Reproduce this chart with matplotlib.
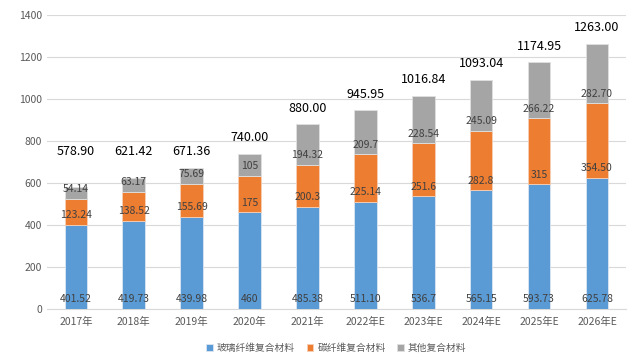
import matplotlib
matplotlib.use("Agg")
import numpy as np
import matplotlib.pyplot as plt

plt.rcParams['font.family'] = ['Noto Sans CJK SC', 'DejaVu Sans']

# data
years = ["2017年", "2018年", "2019年", "2020年", "2021年", "2022年E", "2023年E", "2024年E", "2025年E", "2026年E"]
glass = [401.52, 419.73, 439.98, 460, 485.38, 511.10, 536.7, 565.15, 593.73, 625.78]
carbon = [123.24, 138.52, 155.69, 175, 200.3, 225.14, 251.6, 282.8, 315, 354.50]
other = [54.14, 63.17, 75.69, 105, 194.32, 209.7, 228.54, 245.09, 266.22, 282.70]
glass_txt = ["401.52", "419.73", "439.98", "460", "485.38", "511.10", "536.7", "565.15", "593.73", "625.78"]
carbon_txt = ["123.24", "138.52", "155.69", "175", "200.3", "225.14", "251.6", "282.8", "315", "354.50"]
other_txt = ["54.14", "63.17", "75.69", "105", "194.32", "209.7", "228.54", "245.09", "266.22", "282.70"]
totals = [578.90, 621.42, 671.36, 740.00, 880.00, 945.95, 1016.84, 1093.04, 1174.95, 1263.00]
names = ["玻璃纤维复合材料", "碳纤维复合材料", "其他复合材料"]

fig = plt.figure(figsize=(6.42, 3.6), dpi=100)
ax = fig.add_axes([0.073, 0.142, 0.902, 0.816])

x = np.arange(len(years))
w = 0.39
glass = np.array(glass)
carbon = np.array(carbon)
other = np.array(other)
b1 = glass
b2 = glass + carbon

ax.bar(x, glass, w, color="#5B9BD5", edgecolor="#dce6f2", linewidth=0.6, label=names[0], zorder=3)
ax.bar(x, carbon, w, bottom=b1, color="#ED7D31", edgecolor="#f5cfb5", linewidth=0.6, label=names[1], zorder=3)
ax.bar(x, other, w, bottom=b2, color="#A5A5A5", edgecolor="#e0e0e0", linewidth=0.6, label=names[2], zorder=3)

lab = dict(ha="center", va="bottom", fontsize=7.5, color="#404040", zorder=4)
for i in range(len(years)):
    ax.text(x[i], 0 + 22, glass_txt[i], **lab)
    ax.text(x[i], b1[i] + 22, carbon_txt[i], **lab)
    ax.text(x[i], b2[i] + 22, other_txt[i], **lab)
    ty = max(totals[i] + 45, 720)
    ax.text(x[i], ty, "%.2f" % totals[i], ha="center", va="bottom", fontsize=9, color="black")

ax.set_ylim(0, 1400)
ax.set_xlim(-0.5, len(years) - 0.5)
ax.set_yticks(range(0, 1401, 200))
ax.set_xticks(x)
ax.set_xticklabels(years)
ax.tick_params(axis="both", length=0, labelsize=7.5, colors="#595959")
ax.tick_params(axis="x", pad=6)
ax.grid(axis="y", color="#d9d9d9", linewidth=0.8, zorder=0)
for s in ["top", "right", "left"]:
    ax.spines[s].set_visible(False)
ax.spines["bottom"].set_color("#d9d9d9")

ax.legend(loc="upper center", bbox_to_anchor=(0.5, -0.085), ncol=3, frameon=False,
          fontsize=7, handlelength=0.7, handleheight=0.7, columnspacing=1.2,
          handletextpad=0.4, labelcolor="#595959")

fig.savefig("out.png", dpi=100)
